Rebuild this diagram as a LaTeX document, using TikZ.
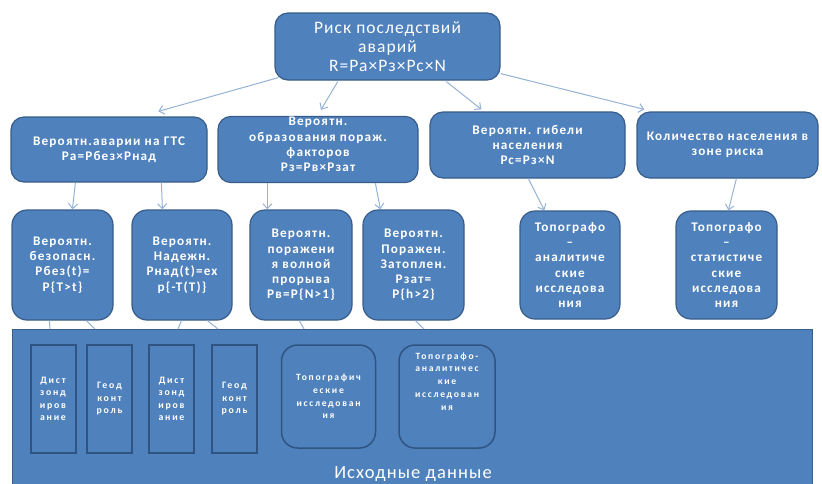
\documentclass[tikz,border=0pt]{standalone}
\usepackage{fontspec}
\setmainfont{Carlito}
\newfontfamily\bxfont[LetterSpace=9]{Carlito}
\newfontfamily\smfont[LetterSpace=18]{Carlito}
\newfontfamily\ttlfont[LetterSpace=6]{Carlito}
\usetikzlibrary{arrows.meta,calc}
\definecolor{boxfill}{RGB}{79,129,189}
\definecolor{boxline}{RGB}{56,93,138}
\definecolor{innerline}{RGB}{47,84,130}
\definecolor{arr}{RGB}{149,179,215}
\begin{document}
\begin{tikzpicture}[x=1pt,y=-1pt,
  box/.style={draw=boxline, line width=1.2pt, fill=boxfill, rounded corners=13pt, text=white,
    font=\bxfont\bfseries\fontsize{13.2}{15.2}\selectfont, align=center, inner sep=1pt},
  basebox/.style={draw=boxline, line width=1.2pt, fill=boxfill, inner sep=0pt},
  dbox/.style={draw=innerline, line width=2pt, fill=boxfill, text=white, align=center,
    font=\smfont\bfseries\fontsize{9.8}{12.5}\selectfont, inner sep=0pt, minimum width=45pt, minimum height=108pt},
  ebox/.style={draw=innerline, line width=1.5pt, fill=boxfill, rounded corners=16pt, text=white, align=center,
    font=\smfont\bfseries\fontsize{9.6}{12.8}\selectfont, inner sep=0pt, minimum width=94pt, minimum height=103pt},
  conn/.style={draw=arr, line width=1pt, -{Straight Barb[length=5pt,width=9pt]}},
  plainline/.style={draw=arr, line width=1pt}]
\useasboundingbox (0,0) rectangle (822,483);
\fill[white] (0,0) rectangle (822,483);

% top
\node[box, font=\ttlfont\fontsize{17.5}{19}\selectfont, minimum width=225pt, minimum height=67pt] (top) at (387.5,46.5)
  {Риск последствий\\аварий\\R=Pa×Pз×Pc×N};

% row 2
\node[box, minimum width=196pt, minimum height=65pt] (b1) at (109,149.5) {Вероятн.аварии на ГТС\\Pa=Pбез×Pнад};
\node[box, minimum width=200pt, minimum height=65pt, text depth=10pt] (b2) at (318,149.5) {Вероятн.\\образования пораж.\\факторов\\Pз=Pв×Pзат};
\node[box, minimum width=195pt, minimum height=66pt] (b3) at (527.5,145) {Вероятн. гибели\\населения\\Pc=Pз×N};
\node[box, minimum width=181pt, minimum height=66pt] (b4) at (727.5,145) {Количество населения в\\зоне риска};

% row 3
\node[box, rounded corners=15pt, minimum width=101pt, minimum height=110pt] (c1) at (62.5,265) {Вероятн.\\безопасн.\\Pбез(t)=\\P\{T>t\}};
\node[box, rounded corners=15pt, minimum width=100pt, minimum height=110pt] (c2) at (182,265) {Вероятн.\\Надежн.\\Pнад(t)=ex\\p\{-T(T)\}};
\node[box, rounded corners=15pt, minimum width=102pt, minimum height=110pt] (c3) at (301,265) {Вероятн.\\поражени\\я волной\\прорыва\\Pв=P\{N>1\}};
\node[box, rounded corners=15pt, minimum width=101pt, minimum height=110pt] (c4) at (413.5,265) {Вероятн.\\Поражен.\\Затоплен.\\Pзат=\\P\{h>2\}};
\node[box, rounded corners=15pt, minimum width=100pt, minimum height=108pt] (c5) at (570,265) {Топографо\\–\\аналитиче\\ские\\исследова\\ния};
\node[box, rounded corners=15pt, minimum width=101pt, minimum height=108pt] (c6) at (726.5,265) {Топографо\\–\\статистиче\\ские\\исследова\\ния};

% base
\node[basebox, minimum width=800pt, minimum height=170pt, anchor=north west] (base) at (12,329) {};
\node[text=white, font=\ttlfont\fontsize{18.5}{20}\selectfont] (basettl) at (413,474) {Исходные данные};

\node[dbox] (d1) at (53,399) {Дист\\зонд\\иров\\ание};
\node[dbox] (d2) at (109.5,399) {Геод\\конт\\роль};
\node[dbox] (d3) at (171.5,399) {Дист\\зонд\\иров\\ание};
\node[dbox] (d4) at (234.5,399) {Геод\\конт\\роль};
\node[ebox] (e1) at (328.5,396.5) {Топографич\\еские\\исследован\\ия};
\node[ebox, minimum width=96pt, text depth=30pt] (e2) at (447,396.5) {Топографо-\\аналитичес\\кие\\исследован\\ия};

% connectors top -> row 2
\draw[conn] ($(top.south west)+(4,-3)$) -- ($(b1.north west)!0.75!(b1.north east)+(0,-5)$);
\draw[conn] ($(top.south west)!0.28!(top.south east)+(0,1)$) -- ($(b2.north)+(3,-6)$);
\draw[conn] ($(top.south west)!0.76!(top.south east)+(0,1)$) -- ($(b3.north west)+(52,-2)$);
\draw[conn] ($(top.south east)+(0,-7)$) -- ($(b4.north west)+(8,-2)$);

% row 2 -> row 3
\draw[conn] ($(b1.south west)+(65,0)$) -- ($(c1.north west)+(61,0)$);
\draw[conn] ($(b1.south west)+(151,0)$) -- ($(c2.north west)+(31,0)$);
\draw[conn] ($(b2.south west)+(50,0)$) -- ($(c3.north west)+(18,0)$);
\draw[conn] ($(b2.south west)+(158,0)$) -- ($(c4.north west)+(18,0)$);
\draw[conn] ($(b3.south west)+(99,0)$) -- ($(c5.north west)+(25,0)$);
\draw[conn] ($(b4.south west)+(100,0)$) -- ($(c6.north west)+(53,0)$);

% row 3 -> base
\draw[plainline] ($(c1.south west)+(38,0)$) -- ($(base.north west)+(38,0)$);
\draw[plainline] ($(c1.south west)+(75,0)$) -- ($(base.north west)+(83,0)$);
\draw[plainline] ($(c2.south west)+(50,0)$) -- ($(base.north west)+(166,0)$);
\draw[plainline] ($(c2.south west)+(76,0)$) -- ($(base.north west)+(206,0)$);
\draw[plainline] ($(c3.south west)+(50,0)$) -- ($(base.north west)+(292,0)$);
\draw[plainline] ($(c4.south west)+(53,0)$) -- ($(base.north west)+(412,0)$);
\end{tikzpicture}
\end{document}
